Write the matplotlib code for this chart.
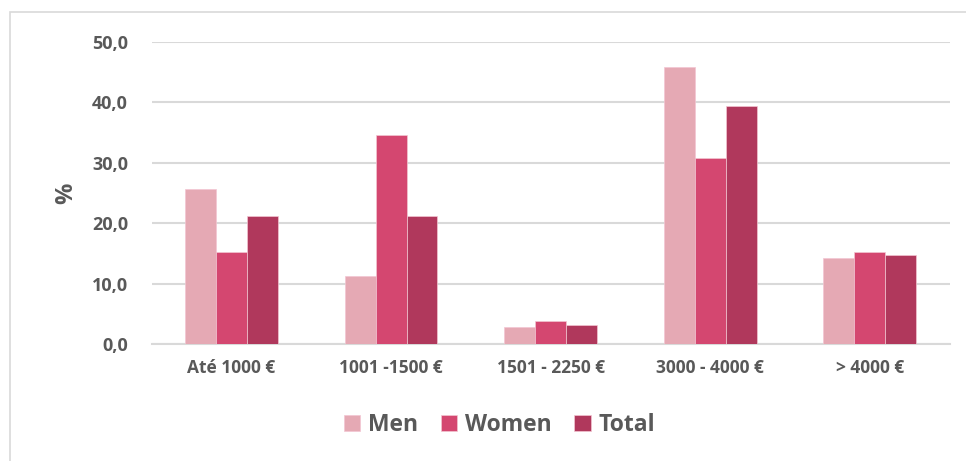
import numpy as np
import matplotlib.pyplot as plt
from matplotlib.patches import Rectangle

plt.rcParams['font.family'] = ['Open Sans', 'DejaVu Sans']
plt.rcParams['font.weight'] = 'bold'

categories = ['Até 1000 €', '1001 -1500 €', '1501 - 2250 €', '3000 - 4000 €', '> 4000 €']
men = [25.7, 11.3, 2.8, 45.8, 14.2]
women = [15.2, 34.6, 3.8, 30.8, 15.3]
total = [21.2, 21.2, 3.1, 39.4, 14.7]
series = [('Men', men, '#E5A9B4'), ('Women', women, '#D44770'), ('Total', total, '#B0385C')]

txt = '#595959'
grid = '#D9D9D9'

fig = plt.figure(figsize=(9.66, 4.61), dpi=100)
# outer chart border
fig.patches.append(Rectangle((0.010, -0.02), 1.2, 0.995, transform=fig.transFigure,
                             fill=False, edgecolor=grid, linewidth=1.2))
ax = fig.add_axes([0.157, 0.254, 0.826, 0.655])

x = np.arange(len(categories))
w = 0.194
for i, (name, vals, col) in enumerate(series):
    ax.bar(x + (i - 1) * w, vals, w, color=col, label=name,
           edgecolor='#F3C6D2', linewidth=0.5, zorder=3)

ax.set_xlim(-0.5, len(categories) - 0.5)
ax.set_ylim(0, 50)
ax.set_yticks(np.arange(0, 51, 10))
ax.set_yticklabels([f'{v:.1f}'.replace('.', ',') for v in np.arange(0, 51, 10)])
ax.set_xticks(x)
ax.set_xticklabels(categories)
ax.yaxis.grid(True, color=grid, linewidth=1.5, zorder=0)
ax.set_axisbelow(True)
for s in ['top', 'right', 'left']:
    ax.spines[s].set_visible(False)
ax.spines['bottom'].set_color(grid)
ax.spines['bottom'].set_linewidth(1.5)
ax.tick_params(axis='y', length=0, pad=17, labelsize=13, labelcolor=txt)
ax.tick_params(axis='x', length=0, pad=11, labelsize=12.5, labelcolor=txt)
ax.set_ylabel('%', fontsize=17, color=txt, fontweight='bold', labelpad=10)

leg = fig.legend(loc='center', bbox_to_anchor=(0.517, 0.078), ncol=3, frameon=False,
                 fontsize=16.5, handlelength=0.7, handleheight=0.7,
                 handletextpad=0.35, columnspacing=1.0)
for t in leg.get_texts():
    t.set_color(txt)

fig.savefig('out.png', dpi=100)
